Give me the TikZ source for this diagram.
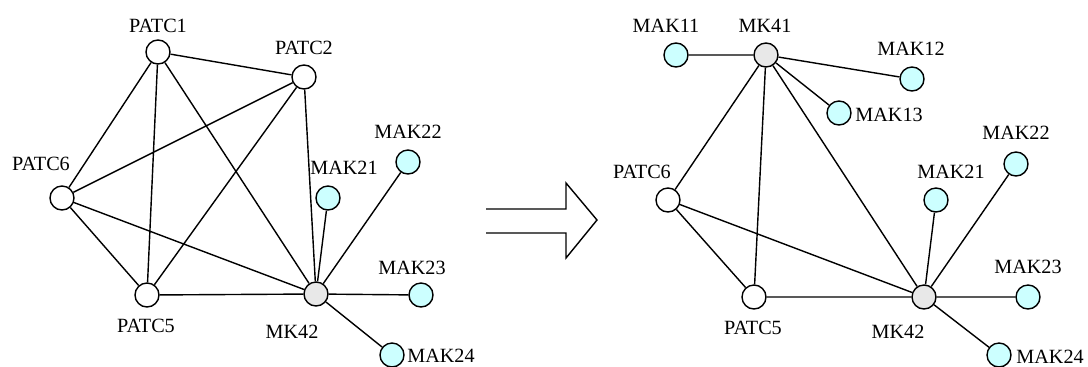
\documentclass[tikz,border=0pt]{standalone}
\usepackage{fontspec}
\setmainfont{Liberation Serif}
\usetikzlibrary{positioning}
\definecolor{makfill}{RGB}{204,255,255}
\definecolor{mkfill}{RGB}{232,232,232}
\tikzset{
    pnode/.style={circle, draw, thick, fill=white, minimum size=0.48cm, inner sep=0pt},
    mknode/.style={pnode, fill=mkfill},
    maknode/.style={pnode, fill=makfill},
    lbl/.style={inner sep=0pt, font=\fontsize{11.5}{12}\selectfont}
}
\begin{document}
\begin{tikzpicture}[x=0.02cm, y=-0.02cm]
                        \useasboundingbox (0, 0) rectangle (1088, 366);

                        % before
                        \node[pnode] (a1) at (158, 52) {};
                        \node[pnode] (a2) at (304, 77) {};
                        \node[pnode] (a6) at (62, 198) {};
                        \node[pnode] (a5) at (147, 295) {};
                        \node[mknode] (am2) at (316, 294) {};
                        \node[maknode] (a21) at (328, 198) {};
                        \node[maknode] (a22) at (408, 162) {};
                        \node[maknode] (a23) at (421, 295) {};
                        \node[maknode] (a24) at (392, 355) {};

                        \node[lbl] (ta1) at (158, 26) {PATC1};
                        \node[lbl] (ta2) at (304, 48) {PATC2};
                        \node[lbl] (ta6) at (41, 164) {PATC6};
                        \node[lbl] (ta5) at (146, 326) {PATC5};
                        \node[lbl] (tam2) at (292, 332) {MK42};
                        \node[lbl] (ta21) at (344, 168) {MAK21};
                        \node[lbl] (ta22) at (408, 132) {MAK22};
                        \node[lbl] (ta23) at (412, 268) {MAK23};
                        \node[lbl, anchor=west] (ta24) at (407, 356) {MAK24};

                        \draw[thick]
                        (a1) -- (a2)
                        (a1) -- (a6)
                        (a1) -- (a5)
                        (a1) -- (am2)
                        (a2) -- (a6)
                        (a2) -- (a5)
                        (a2) -- (am2)
                        (a6) -- (a5)
                        (a6) -- (am2)
                        (a5) -- (am2)
                        (am2) -- (a21)
                        (am2) -- (a22)
                        (am2) -- (a23)
                        (am2) -- (a24);

                        % arrow
                        \coordinate (s1) at (486, 209);
                        \coordinate (s2) at (486, 233);
                        \draw[thick] (s1) -- (566, 209) -- (566, 183) -- (597, 220)
                        -- (566, 258) -- (566, 233) -- (s2);

                        % after
                        \node[maknode] (b11) at (676, 55) {};
                        \node[mknode] (bm1) at (766, 55) {};
                        \node[maknode] (b12) at (912, 79) {};
                        \node[maknode] (b13) at (839, 113) {};
                        \node[pnode] (b6) at (668, 200) {};
                        \node[pnode] (b5) at (754, 297) {};
                        \node[mknode] (bm2) at (924, 297) {};
                        \node[maknode] (b21) at (936, 200) {};
                        \node[maknode] (b22) at (1016, 164) {};
                        \node[maknode] (b23) at (1028, 297) {};
                        \node[maknode] (b24) at (999, 355) {};

                        \node[lbl] (tb11) at (666, 26) {MAK11};
                        \node[lbl] (tbm1) at (765, 26) {MK41};
                        \node[lbl] (tb12) at (911, 49) {MAK12};
                        \node[lbl, anchor=west] (tb13) at (855, 115) {MAK13};
                        \node[lbl] (tb6) at (642, 172) {PATC6};
                        \node[lbl] (tb5) at (753, 328) {PATC5};
                        \node[lbl] (tbm2) at (898, 332) {MK42};
                        \node[lbl] (tb21) at (951, 172) {MAK21};
                        \node[lbl] (tb22) at (1016, 133) {MAK22};
                        \node[lbl] (tb23) at (1028, 267) {MAK23};
                        \node[lbl, anchor=west] (tb24) at (1016, 357) {MAK24};

                        \draw[thick]
                        (b11) -- (bm1)
                        (bm1) -- (b12)
                        (bm1) -- (b13)
                        (bm1) -- (b6)
                        (bm1) -- (b5)
                        (bm1) -- (bm2)
                        (b6) -- (b5)
                        (b6) -- (bm2)
                        (b5) -- (bm2)
                        (bm2) -- (b21)
                        (bm2) -- (b22)
                        (bm2) -- (b23)
                        (bm2) -- (b24);
                    \end{tikzpicture}
\end{document}
